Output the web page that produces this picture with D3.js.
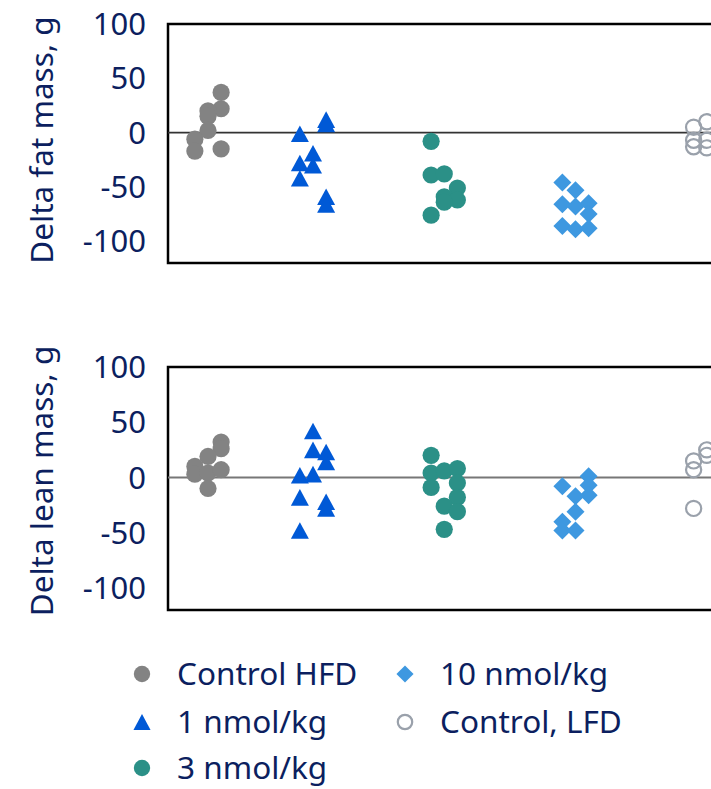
<!DOCTYPE html>
<html>
<head>
<meta charset="utf-8">
<script src="https://cdn.jsdelivr.net/npm/d3@7"></script>
<style>
  html, body { margin: 0; padding: 0; background: #fff; }
  svg { display: block; }
  text { font-family: "Noto Sans", "Open Sans", sans-serif; fill: #0c1f5f; }
</style>
</head>
<body>
<svg id="chart" width="711" height="789"></svg>
<script>
// ---------- DATA ----------
const groups = ["Control HFD", "1 nmol/kg", "3 nmol/kg", "10 nmol/kg", "Control, LFD"];
const groupPos = [0, 0.8, 1.8, 2.8, 3.8];
const yTicks = [100, 50, 0, -50, -100];

// Delta fat mass (g); column index (-1, 0, 1) within each group
const fatHFD = [37, 22, 20, 15, 2, -6, -17, -15];
const fatHFDcol = [1, 1, 0, 0, 0, -1, -1, 1];
const fat1 = [-1, 12, 8, -19, -30, -28, -42, -59, -66];
const fat1col = [-1, 1, 1, 0, 0, -1, -1, 1, 1];
const fat3 = [-8, -39, -38, -51, -59, -62, -64, -76];
const fat3col = [-1, -1, 0, 1, 0, 1, 0, -1];
const fat10 = [-46, -53, -66, -68, -65, -75, -86, -89, -88];
const fat10col = [-1, 0, -1, 0, 1, 1, -1, 0, 1];
const fatLFD = [5, 10, -7, -13, -7, -14];
const fatLFDcol = [-1, 0, -1, -1, 0, 0];

// Delta lean mass (g)
const leanHFD = [32, 26, 19, 10, 3, 4, 7, -10];
const leanHFDcol = [1, 1, 0, -1, -1, 0, 1, 0];
const lean1 = [42, 25, 23, 14, 2, 3, -18, -22, -28, -48];
const lean1col = [0, 0, 1, 1, -1, 0, -1, 1, 1, -1];
const lean3 = [20, 4, 6, 8, -9, -5, -18, -26, -31, -47];
const lean3col = [-1, -1, 0, 1, -1, 1, 1, 0, 1, 0];
const lean10 = [-8, 1, -7, -16, -17, -31, -40, -48, -48];
const lean10col = [-1, 1, 1, 1, 0, 0, -1, -1, 0];
const leanLFD = [15, 7, 25, 20, -28];
const leanLFDcol = [-1, -1, 0, 0, -1];

// ---------- STYLE ----------
const colors = ["#838383", "#0059d6", "#2b9087", "#3e98e0", "#9aa1ab"];
const shapes = ["circle", "triangle", "circle", "diamond", "open"];

const svg = d3.select("#chart");
const x = d3.scaleLinear().domain([0, 1]).range([208, 339.25]);
const colStep = 0.1;

function drawMarker(g, shape, color, cx, cy, s) {
  s = s || 1;
  if (shape === "circle") {
    g.append("circle").attr("cx", cx).attr("cy", cy).attr("r", 8.6 * s).attr("fill", color);
  } else if (shape === "open") {
    g.append("circle").attr("cx", cx).attr("cy", cy).attr("r", 7.6 * s)
      .attr("fill", "none").attr("stroke", color).attr("stroke-width", 2.2);
  } else if (shape === "triangle") {
    const w = 9 * s, h = 8.3 * s;
    g.append("path").attr("d", `M${cx},${cy - h}L${cx + w},${cy + h}L${cx - w},${cy + h}Z`).attr("fill", color);
  } else if (shape === "diamond") {
    const r = 9 * s;
    g.append("path").attr("d", `M${cx},${cy - r}L${cx + r},${cy}L${cx},${cy + r}L${cx - r},${cy}Z`).attr("fill", color);
  }
}

function panel(top, bottom, title, series, cols, zeroColor, zeroW, titleY) {
  const y = d3.scaleLinear().domain([-120, 100]).range([bottom, top]);
  const g = svg.append("g");
  // frame
  g.append("rect").attr("x", 168).attr("y", top).attr("width", 700).attr("height", bottom - top)
    .attr("fill", "none").attr("stroke", "#000").attr("stroke-width", 2.5);
  // zero line
  g.append("line").attr("x1", 168).attr("x2", 711).attr("y1", y(0)).attr("y2", y(0))
    .attr("stroke", zeroColor).attr("stroke-width", zeroW);
  // ticks
  g.selectAll("text.tick").data(yTicks).join("text").attr("class", "tick")
    .attr("x", 146).attr("y", d => y(d)).attr("dy", "0.36em")
    .attr("text-anchor", "end").attr("font-size", 31).text(d => d);
  // title
  g.append("text").attr("transform", `translate(53,${titleY}) rotate(-90)`)
    .attr("text-anchor", "middle").attr("font-size", 31.5).text(title);
  // points
  series.forEach((vals, i) => {
    vals.forEach((v, j) => {
      drawMarker(g, shapes[i], colors[i], x(groupPos[i] + cols[i][j] * colStep), y(v));
    });
  });
}

panel(24, 263, "Delta fat mass, g",
  [fatHFD, fat1, fat3, fat10, fatLFD],
  [fatHFDcol, fat1col, fat3col, fat10col, fatLFDcol], "#333", 1.6, 140);
panel(367, 610, "Delta lean mass, g",
  [leanHFD, lean1, lean3, lean10, leanLFD],
  [leanHFDcol, lean1col, lean3col, lean10col, leanLFDcol], "#777", 2, 481);

// ---------- LEGEND ----------
const legendX = [142, 142, 142, 405, 405];
const legendY = [674, 722, 768, 674, 722];
const leg = svg.append("g");
groups.forEach((name, i) => {
  drawMarker(leg, shapes[i], colors[i], legendX[i], legendY[i], 0.95);
  leg.append("text").attr("x", legendX[i] + 35).attr("y", legendY[i]).attr("dy", "0.36em")
    .attr("font-size", 31.5).text(name);
});
</script>
</body>
</html>
